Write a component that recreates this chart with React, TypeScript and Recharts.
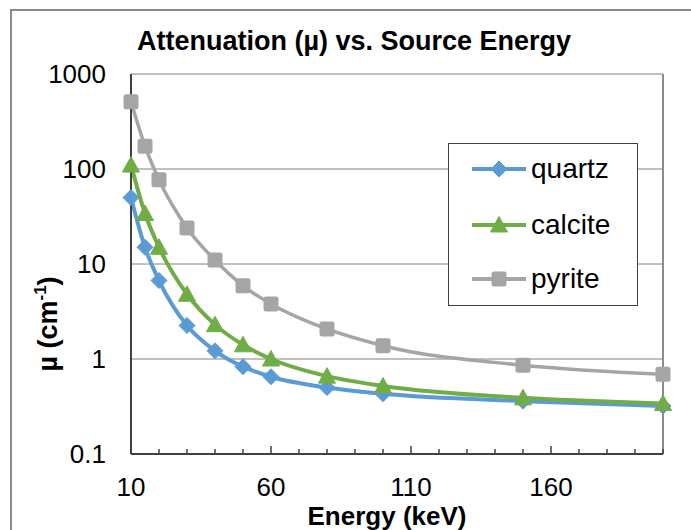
import React from 'react'
import { LineChart, Line, XAxis, YAxis, CartesianGrid, Legend, ReferenceLine } from 'recharts'

// values (log scale, so estimates)
const energies = [10, 15, 20, 30, 40, 50, 60, 80, 100, 150, 200]
const quartz = [50, 15, 6.7, 2.25, 1.22, 0.83, 0.65, 0.5, 0.43, 0.36, 0.32]
const calcite = [110, 34, 15, 4.8, 2.3, 1.41, 1.0, 0.66, 0.52, 0.39, 0.34]
const pyrite = [510, 174, 77, 24, 11, 5.9, 3.8, 2.07, 1.38, 0.86, 0.69]

const xTicks = [10, 20, 30, 40, 50, 60, 70, 80, 90, 100, 110, 120, 130, 140, 150, 160, 170, 180, 190, 200]
const xLabels = [10, 60, 110, 160]
const yTicks = [0.1, 1, 10, 100, 1000]

const FONT = '"Liberation Sans", Arial, sans-serif'

type Shape = 'diamond' | 'triangle' | 'square'

const series: { key: string; color: string; shape: Shape; width: number }[] = [
  { key: 'quartz', color: '#5B9BD5', shape: 'diamond', width: 4 },
  { key: 'calcite', color: '#70AD47', shape: 'triangle', width: 4 },
  { key: 'pyrite', color: '#A5A5A5', shape: 'square', width: 3.5 },
]

const data = energies.map((e, i) => ({
  energy: e,
  quartz: quartz[i],
  calcite: calcite[i],
  pyrite: pyrite[i],
}))

function Marker({ shape, color, cx, cy }: { shape: Shape; color: string; cx: number; cy: number }) {
  if (shape === 'diamond') {
    const r = 8
    return (
      <polygon
        points={`${cx},${cy - r} ${cx + r},${cy} ${cx},${cy + r} ${cx - r},${cy}`}
        fill={color}
        stroke={color}
        strokeWidth={1}
        strokeLinejoin="round"
      />
    )
  }
  if (shape === 'triangle') {
    return (
      <polygon
        points={`${cx},${cy - 8.5} ${cx + 8.5},${cy + 7} ${cx - 8.5},${cy + 7}`}
        fill={color}
        stroke={color}
        strokeWidth={1}
        strokeLinejoin="round"
      />
    )
  }
  return <rect x={cx - 7.5} y={cy - 7.5} width={15} height={15} rx={2.5} fill={color} />
}

const dotFor = (shape: Shape, color: string) => (props: any) => {
  const { cx, cy, index } = props
  if (cx == null || cy == null) return <g key={`${shape}-${index}`} />
  return (
    <g key={`${shape}-${index}`}>
      <Marker shape={shape} color={color} cx={cx} cy={cy} />
    </g>
  )
}

function XTick(props: any) {
  const { x, y, payload } = props
  const major = xLabels.includes(payload.value)
  return (
    <g>
      <line x1={x} x2={x} y1={y} y2={y - (major ? 8 : 5)} stroke="#404040" strokeWidth={1.5} />
      {major && (
        <text x={x} y={y + 42} textAnchor="middle" fontFamily={FONT} fontSize={26} fill="#000">
          {payload.value}
        </text>
      )}
    </g>
  )
}

function YTick(props: any) {
  const { y, payload } = props
  return (
    <text x={106} y={y + 9} textAnchor="end" fontFamily={FONT} fontSize={26} fill="#000">
      {String(payload.value)}
    </text>
  )
}

function LegendBox() {
  const rows = [26, 82, 136]
  return (
    <svg width={190} height={163} style={{ display: 'block' }}>
      <rect x={0.5} y={0.5} width={189} height={162} fill="#fff" stroke="#404040" strokeWidth={1} />
      {series.map((s, i) => (
        <g key={s.key}>
          <line x1={24} x2={78} y1={rows[i]} y2={rows[i]} stroke={s.color} strokeWidth={4} />
          <Marker shape={s.shape} color={s.color} cx={51} cy={rows[i]} />
          <text x={83} y={rows[i] + 9} fontFamily={FONT} fontSize={28} fill="#000">
            {s.key}
          </text>
        </g>
      ))}
    </svg>
  )
}

export default function App() {
  return (
    <div
      style={{
        position: 'fixed',
        left: 0,
        top: 0,
        width: 691,
        height: 530,
        overflow: 'hidden',
        background: '#fff',
      }}
    >
      <div
        style={{
          position: 'absolute',
          left: 10,
          top: 9,
          width: 720,
          height: 560,
          border: '2px solid #8a8a8a',
        }}
      />
      <div style={{ position: 'absolute', left: 0, top: 0 }}>
        <LineChart width={691} height={530} data={data} margin={{ top: 74, right: 28, left: 31, bottom: 16 }}>
          <CartesianGrid vertical={false} stroke="#808080" strokeWidth={1} />
          <XAxis
            dataKey="energy"
            type="number"
            domain={[10, 200]}
            ticks={xTicks}
            interval={0}
            height={60}
            tickSize={0}
            tickMargin={0}
            tickLine={false}
            axisLine={{ stroke: '#404040', strokeWidth: 2 }}
            tick={(p: any) => <XTick {...p} />}
          />
          <YAxis
            type="number"
            scale="log"
            domain={[0.1, 1000]}
            ticks={yTicks}
            interval={0}
            allowDataOverflow
            width={100}
            tickLine={false}
            axisLine={{ stroke: '#404040', strokeWidth: 2 }}
            tick={(p: any) => <YTick {...p} />}
          />
          <ReferenceLine x={200} stroke="#8c8c8c" strokeWidth={2} />
          {series.map((s) => (
            <Line
              key={s.key}
              dataKey={s.key}
              type="monotone"
              stroke={s.color}
              strokeWidth={s.width}
              dot={dotFor(s.shape, s.color)}
              activeDot={false}
              isAnimationActive={false}
            />
          ))}
          <Legend
            layout="vertical"
            align="center"
            verticalAlign="middle"
            wrapperStyle={{ left: 448, top: 143, width: 190, height: 163 }}
            content={() => <LegendBox />}
          />
        </LineChart>
      </div>
      <svg
        width={691}
        height={530}
        style={{ position: 'absolute', left: 0, top: 0, pointerEvents: 'none' }}
      >
        <text x={354} y={50} textAnchor="middle" fontFamily={FONT} fontWeight="bold" fontSize={27} fill="#000">
          Attenuation (µ) vs. Source Energy
        </text>
        <text x={387} y={525} textAnchor="middle" fontFamily={FONT} fontWeight="bold" fontSize={26} fill="#000">
          Energy (keV)
        </text>
        <text
          x={57}
          y={324}
          transform="rotate(-90 57 324)"
          textAnchor="middle"
          fontFamily={FONT}
          fontWeight="bold"
          fontSize={27}
          fill="#000"
        >
          µ (cm<tspan fontSize={17} dy={-11}>-1</tspan>
          <tspan dy={11}>)</tspan>
        </text>
      </svg>
    </div>
  )
}
